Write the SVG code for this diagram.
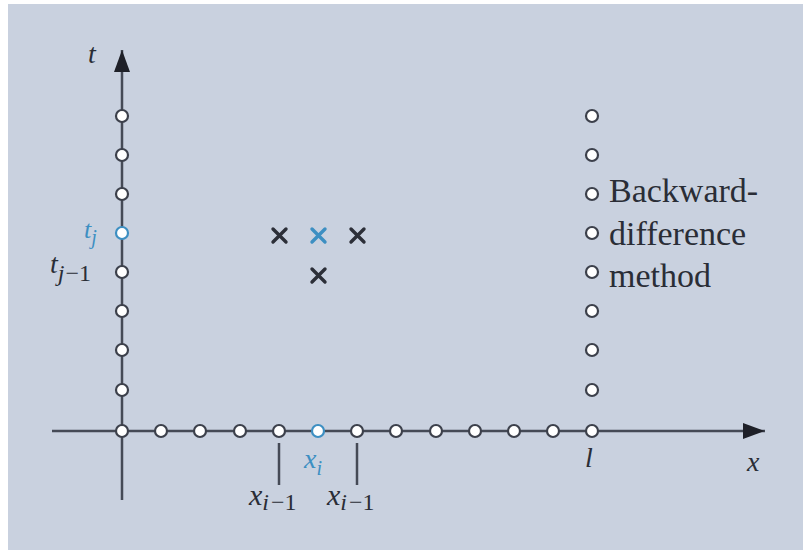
<svg xmlns="http://www.w3.org/2000/svg" width="803" height="550" viewBox="0 0 803 550">
<style>
.ax{stroke:#454a56;stroke-width:2.5;fill:none}
.pt{fill:#ffffff;stroke:#3c404b;stroke-width:2.2}
.ptb{fill:#ffffff;stroke:#3d8fc2;stroke-width:2.2}
.cr{stroke:#2c2f38;stroke-width:3.4;stroke-linecap:round;fill:none}
.crb{stroke:#3d8fc2;stroke-width:3.4;stroke-linecap:round;fill:none}
.lab{font-family:"Liberation Serif",serif;font-style:italic;fill:#2a2d36}
.blue{fill:#3d8fc2}
.txt{font-family:"Liberation Serif",serif;font-size:34px;fill:#2a2d36}
</style>
<defs>
<marker id="arr" viewBox="0 0 22 16" refX="22" refY="8" markerWidth="22" markerHeight="16" markerUnits="userSpaceOnUse" orient="auto">
<path d="M0,0 L22,8 L0,16 Z" fill="#1e2028"/>
</marker>
</defs>
<rect x="0" y="0" width="803" height="550" fill="#ffffff"/>
<rect x="8" y="4" width="795" height="546" fill="#c9d1df"/>
<g id="connectors">
<line class="ax" x1="122" y1="500" x2="122" y2="50" marker-end="url(#arr)"/>
<line class="ax" x1="52" y1="431" x2="765" y2="431" marker-end="url(#arr)"/>
<line class="ax" x1="279" y1="443" x2="279" y2="485"/>
<line class="ax" x1="357" y1="443" x2="357" y2="485"/>
</g>
<g id="t-axis-points">
<circle class="pt" cx="122" cy="116" r="6"/>
<circle class="pt" cx="122" cy="155" r="6"/>
<circle class="pt" cx="122" cy="194" r="6"/>
<circle class="ptb" cx="122" cy="233" r="6"/>
<circle class="pt" cx="122" cy="272" r="6"/>
<circle class="pt" cx="122" cy="311" r="6"/>
<circle class="pt" cx="122" cy="350" r="6"/>
<circle class="pt" cx="122" cy="390" r="6"/>
</g>
<g id="x-axis-points">
<circle class="pt" cx="122" cy="431" r="6"/>
<circle class="pt" cx="161" cy="431" r="6"/>
<circle class="pt" cx="200" cy="431" r="6"/>
<circle class="pt" cx="240" cy="431" r="6"/>
<circle class="pt" cx="279" cy="431" r="6"/>
<circle class="ptb" cx="318" cy="431" r="6"/>
<circle class="pt" cx="357" cy="431" r="6"/>
<circle class="pt" cx="396" cy="431" r="6"/>
<circle class="pt" cx="436" cy="431" r="6"/>
<circle class="pt" cx="475" cy="431" r="6"/>
<circle class="pt" cx="514" cy="431" r="6"/>
<circle class="pt" cx="553" cy="431" r="6"/>
<circle class="pt" cx="592" cy="431" r="6"/>
</g>
<g id="boundary-points">
<circle class="pt" cx="592" cy="116" r="6"/>
<circle class="pt" cx="592" cy="155" r="6"/>
<circle class="pt" cx="592" cy="194" r="6"/>
<circle class="pt" cx="592" cy="233" r="6"/>
<circle class="pt" cx="592" cy="272" r="6"/>
<circle class="pt" cx="592" cy="311" r="6"/>
<circle class="pt" cx="592" cy="350" r="6"/>
<circle class="pt" cx="592" cy="390" r="6"/>
</g>
<g id="stencil">
<path class="cr" d="M273,229 L286,242 M286,229 L273,242"/>
<path class="crb" d="M312,229 L325,242 M325,229 L312,242"/>
<path class="cr" d="M351,229 L364,242 M364,229 L351,242"/>
<path class="cr" d="M312,269 L325,282 M325,269 L312,282"/>
</g>
<g id="labels">
<text class="lab" x="88" y="63" font-size="28">t</text>
<text class="lab blue" x="84" y="238" font-size="26">t<tspan font-size="20" dy="6">j</tspan></text>
<text class="lab" x="50" y="273" font-size="28">t<tspan font-size="24" dy="8">j</tspan><tspan font-style="normal" font-size="24" dx="1">−1</tspan></text>
<text class="lab blue" x="304" y="468" font-size="28">x<tspan font-size="20" dy="7">i</tspan></text>
<text class="lab" x="249" y="505" font-size="30">x<tspan font-size="24" dy="5">i</tspan><tspan font-style="normal" font-size="24" dx="2">−1</tspan></text>
<text class="lab" x="327" y="505" font-size="30">x<tspan font-size="24" dy="5">i</tspan><tspan font-style="normal" font-size="24" dx="2">−1</tspan></text>
<text class="lab" x="585" y="467" font-size="28">l</text>
<text class="lab" x="747" y="471" font-size="28">x</text>
</g>
<g id="method-label">
<text class="txt" x="609" y="202">Backward-</text>
<text class="txt" x="609" y="245">difference</text>
<text class="txt" x="609" y="287">method</text>
</g>
</svg>
